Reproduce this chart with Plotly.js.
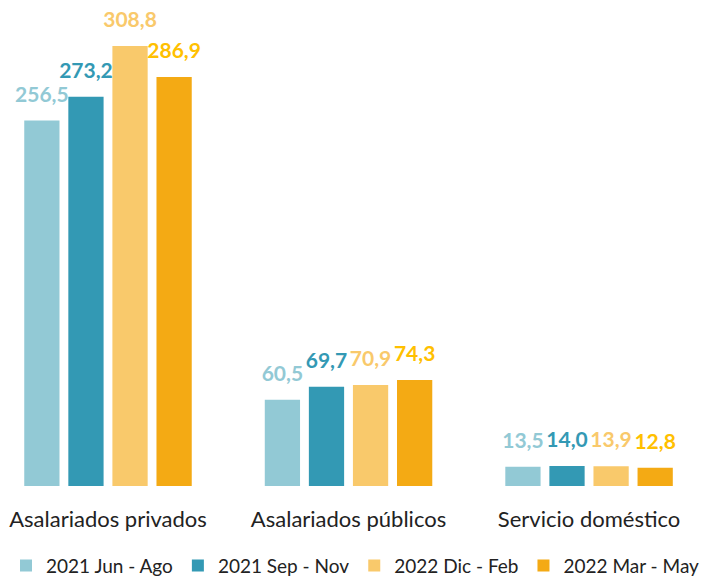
<!DOCTYPE html>
<html>
<head>
<meta charset="utf-8">
<script src="https://cdn.plot.ly/plotly-3.0.1.min.js"></script>
<style>html,body{margin:0;padding:0;background:#fff;}#chart{width:711px;height:580px;}</style>
</head>
<body>
<div id="chart"></div>
<script>
const categories = ["Asalariados privados", "Asalariados públicos", "Servicio doméstico"];
const seriesNames = ["2021 Jun - Ago", "2021 Sep - Nov", "2022 Dic - Feb", "2022 Mar - May"];
const s2021JunAgo = [256.5, 60.5, 13.5];
const s2021SepNov = [273.2, 69.7, 14.0];
const s2022DicFeb = [308.8, 70.9, 13.9];
const s2022MarMay = [286.9, 74.3, 12.8];

const barColors = ["#92C9D5", "#3399B4", "#F9C96B", "#F4AA14"];
const labelColors = ["#92C9D5", "#3399B4", "#F9C96B", "#FFC000"];
const allSeries = [s2021JunAgo, s2021SepNov, s2022DicFeb, s2022MarMay];

const fmt = v => v.toFixed(1).replace('.', ',');
const FONT = "Lato, 'Open Sans', sans-serif";

const barTraces = allSeries.map((vals, i) => ({
  type: 'bar',
  name: seriesNames[i],
  x: categories,
  y: vals,
  offsetgroup: 'g' + i,
  marker: {color: barColors[i]},
  hoverinfo: 'skip'
}));

const labelTraces = allSeries.map((vals, i) => ({
  type: 'scatter',
  mode: 'markers+text',
  name: seriesNames[i] + ' etiqueta',
  showlegend: false,
  x: categories,
  y: vals,
  offsetgroup: 'g' + i,
  marker: {size: 20, color: 'rgba(0,0,0,0)'},
  text: vals.map(fmt),
  textposition: 'top center',
  cliponaxis: false,
  textfont: {family: FONT, size: 21, color: labelColors[i], weight: 'bold'},
  hoverinfo: 'skip'
}));

const layout = {
  width: 711, height: 580,
  margin: {l: 0, r: 0, t: 0, b: 94, autoexpand: false},
  paper_bgcolor: '#fff', plot_bgcolor: '#fff',
  barmode: 'group',
  bargap: 0.267,
  bargroupgap: 0.2,
  scattermode: 'group',
  scattergap: 0.267,
  showlegend: true,
  legend: {orientation: 'h', x: 0.5, xanchor: 'center', y: -0.125, yanchor: 'top',
           font: {family: FONT, size: 19, color: '#222'}, itemwidth: 30, traceorder: 'normal',
           tracegroupgap: 0},
  xaxis: {range: [-0.449, 2.507], showgrid: false, zeroline: false, showline: false,
          ticks: '', ticklabelstandoff: 18,
          tickfont: {family: FONT, size: 22, color: '#222'}, fixedrange: true},
  yaxis: {range: [0, 341], visible: false, showgrid: false, zeroline: false, fixedrange: true},
  font: {family: FONT}
};

Plotly.newPlot('chart', barTraces.concat(labelTraces), layout, {displayModeBar: false, staticPlot: true});
</script>
</body>
</html>
